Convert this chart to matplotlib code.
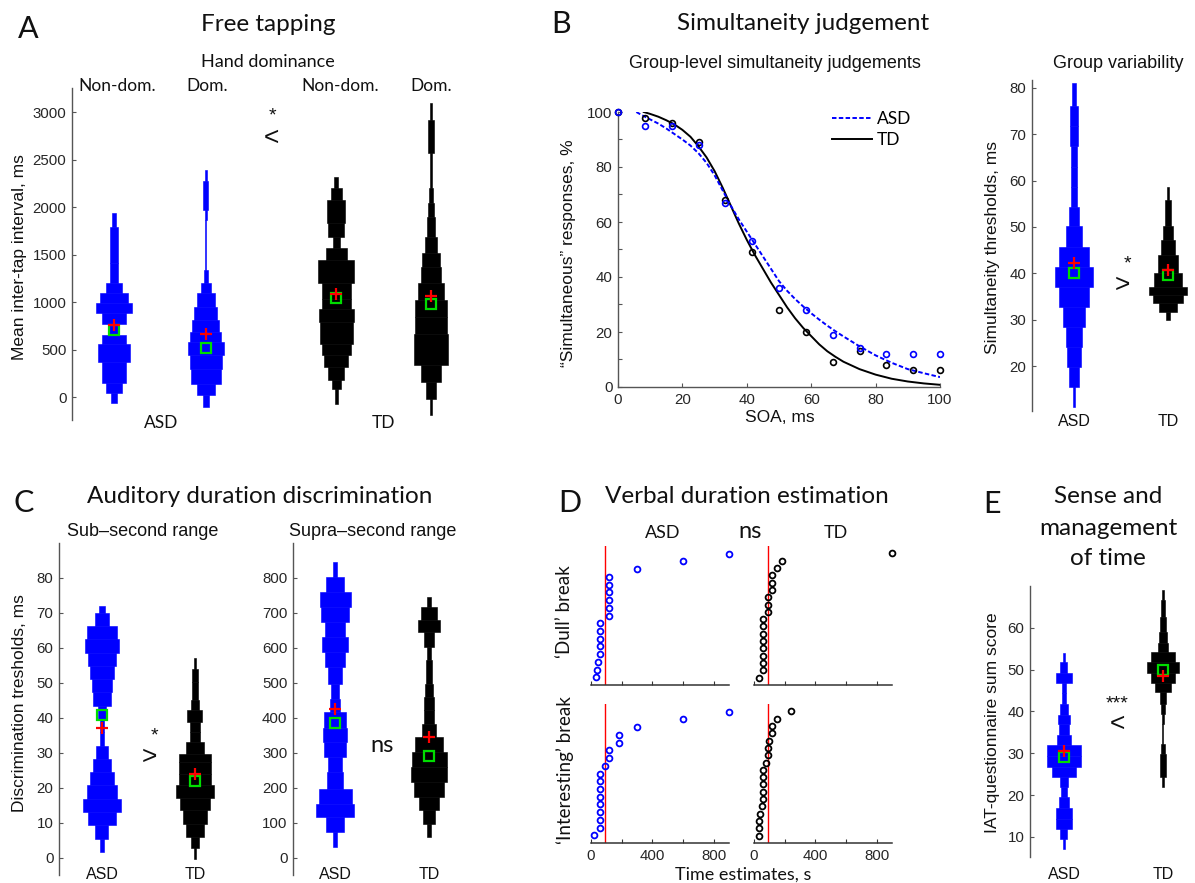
import numpy as np
import matplotlib
matplotlib.use("Agg")
import matplotlib.pyplot as plt
from matplotlib.lines import Line2D

# ---------------------------------------------------------------------------
# Data
# Violin shapes are stepped histograms: bin edges plus relative bin density.
# ---------------------------------------------------------------------------

# A: free tapping, mean inter-tap interval (ms)
tap_labels = ["Non-dom.", "Dom.", "Non-dom.", "Dom."]
tap_asd_nondom_edges = [-63, 42, 148, 369, 563, 658, 766, 880, 985, 1090, 1196, 1407, 1794, 1935]
tap_asd_nondom_dens = [8, 26, 38, 51, 38, 17, 37, 55, 43, 25, 12, 11, 5]
tap_asd_dom_edges = [-105, 18, 141, 299, 440, 580, 686, 809, 950, 1090, 1196, 1337, 1864, 1970, 2269, 2392]
tap_asd_dom_dens = [9, 28, 47, 50, 56, 48, 42, 36, 29, 16, 6, 1.5, 2, 8, 2]
tap_td_nondom_edges = [-70, 88, 176, 317, 440, 563, 790, 930, 1037, 1196, 1442, 1565, 1688, 1829, 2075, 2198, 2321]
tap_td_nondom_dens = [5, 14, 25, 37, 44, 50, 55, 45, 44, 56, 32, 11, 25, 28, 18, 6]
tap_td_dom_edges = [-193, -18, 158, 334, 668, 844, 1020, 1196, 1372, 1512, 1688, 1899, 2040, 2198, 2568, 2920, 3095]
tap_td_dom_dens = [4, 15, 32, 54, 50, 49, 40, 32, 28, 19, 12, 8, 6, 2, 10, 3]
tap_means = [756, 661, 1083, 1062]
tap_medians = [703, 520, 1038, 974]

# B: simultaneity judgements
soa = [0, 8.33, 16.67, 25, 33.33, 41.67, 50, 58.33, 66.67, 75, 83.33, 91.67, 100]
sj_asd = [100, 95, 95, 88, 67, 53, 36, 28, 19, 14, 12, 12, 12]
sj_td = [100, 98, 96, 89, 68, 49, 28, 20, 9, 13, 8, 6, 6]
fit_soa_asd = [5.7, 7.5, 10, 12.5, 15, 17.5, 20, 22.5, 25, 27.5, 30, 32.5, 35, 37.5, 40, 42.5, 45,
               47.5, 50, 52.5, 55, 57.5, 60, 62.5, 65, 67.5, 70, 75, 80, 85, 90, 95, 100]
fit_asd = [100, 98.8, 97.3, 95.8, 94, 92, 90, 87.8, 85, 81.5, 77, 71.5, 66, 61, 56.5, 52, 47.5,
           43, 38.5, 35, 32, 29.3, 26.8, 24.5, 22.3, 20.3, 18.4, 14.8, 11.5, 8.8, 6.5, 5, 3.6]
fit_soa_td = [8, 10, 12.5, 15, 17.5, 20, 22.5, 25, 27.5, 30, 32.5, 35, 37.5, 40, 42.5, 45, 47.5,
              50, 52.5, 55, 57.5, 60, 62.5, 65, 67.5, 70, 75, 80, 85, 90, 95, 100]
fit_td = [100, 99.3, 98.3, 97, 95.5, 93.5, 91, 87.5, 83.5, 78.5, 72.5, 66, 59.5, 53.5, 48, 43, 38,
          33.5, 29, 25, 21.5, 18.5, 15.5, 13, 11, 9.2, 6.5, 4.5, 3, 2, 1.3, 0.8]

sjt_asd_edges = [11.1, 15.4, 19.8, 24.1, 28.4, 32.7, 37.1, 41.4, 45.7, 50.1, 54.4, 58.7, 63.0, 67.4, 71.7, 76.0, 81.0]
sjt_asd_dens = [4, 14, 20, 25, 33, 45, 57, 45, 25, 16, 9, 9, 10, 13, 11, 5]
sjt_td_edges = [30.0, 31.7, 33.5, 35.3, 37.1, 40.0, 43.9, 47.2, 50.1, 55.8, 58.7]
sjt_td_dens = [6, 28, 45, 57, 42, 30, 22, 14, 8, 4]
sjt_means = [42.3, 40.8]
sjt_medians = [40.0, 39.6]

# C: auditory duration discrimination thresholds (ms)
sub_asd_edges = [1.7, 5.5, 9.3, 13.1, 16.9, 20.7, 24.5, 28.3, 32.1, 35.9, 39.7, 43.5, 47.3, 51.1, 54.9, 58.7, 62.5, 66.3, 70.1, 72.0]
sub_asd_dens = [6, 20, 42, 57, 47, 36, 27, 18, 7, 5, 12, 28, 32, 36, 42, 53, 46, 22, 8]
sub_td_edges = [-0.2, 2.7, 6.0, 9.8, 13.6, 17.0, 20.8, 24.1, 27.4, 29.8, 33.1, 36.0, 38.9, 42.3, 45.0, 50.3, 54.0, 57.0]
sub_td_dens = [4, 13, 27, 38, 45, 57, 50, 48, 49, 27, 16, 15, 23, 12, 8, 10, 4]
sub_means = [37.0, 23.9]
sub_medians = [40.8, 21.9]

supra_asd_edges = [31, 74, 117, 155, 198, 246, 289, 331, 370, 417, 455, 498, 546, 589, 631, 674, 717, 760, 803, 846]
supra_asd_dens = [6, 28, 57, 50, 25, 20, 32, 35, 33, 15, 12, 22, 30, 40, 30, 42, 47, 28, 5]
supra_td_edges = [60, 98, 136, 174, 217, 260, 303, 346, 384, 422, 460, 498, 565, 603, 646, 679, 717, 746]
supra_td_dens = [5, 18, 30, 45, 55, 53, 42, 20, 16, 15, 12, 10, 5, 15, 33, 25, 5]
supra_means = [427, 346]
supra_medians = [386, 290]

# D: verbal duration estimates (s), sorted per participant
break_duration = 90
dull_asd = [30, 40, 45, 60, 60, 60, 60, 60, 120, 120, 120, 120, 120, 120, 300, 600, 900]
dull_td = [35, 60, 60, 60, 60, 60, 60, 60, 60, 90, 90, 90, 120, 120, 120, 150, 180, 900]
int_asd = [20, 60, 60, 60, 60, 60, 60, 60, 60, 90, 120, 120, 180, 180, 300, 600, 900]
int_td = [30, 30, 30, 40, 50, 60, 60, 60, 60, 60, 75, 90, 90, 100, 120, 120, 150, 240]

# E: IAT questionnaire sum score
iat_asd_edges = [7.2, 9.6, 12.0, 14.4, 16.8, 19.6, 22.0, 24.4, 26.7, 29.3, 31.9, 34.3, 37.1, 39.1, 41.9, 44.3, 46.7, 49.1, 51.9, 53.9]
iat_asd_dens = [4, 10, 22, 22, 15, 8, 12, 35, 50, 48, 20, 15, 18, 12, 6, 6, 22, 10, 4]
iat_td_edges = [22.0, 24.4, 29.9, 32.3, 37.1, 39.5, 41.9, 44.7, 46.7, 49.1, 51.9, 54.3, 56.3, 59.0, 62.6, 66.6, 69.0]
iat_td_dens = [3, 9, 5, 1.5, 3, 5, 9, 22, 35, 47, 35, 15, 11, 9, 6, 2]
iat_means = [30.5, 48.5]
iat_medians = [29.1, 49.9]

# ---------------------------------------------------------------------------
# Styling
# ---------------------------------------------------------------------------
W, H = 1195, 883
HUMANIST = ['Lato', 'DejaVu Sans']
GROTESK = ['Liberation Sans', 'DejaVu Sans']
plt.rcParams['font.family'] = GROTESK
ASD_C = '#0000ff'
TD_C = '#000000'
MEAN_C = '#ff0000'
MED_C = '#00dd00'
SPINE = '#555555'
TICK = '#262626'
TEXT = '#111111'
TICK_SIZE = 10.8
TITLE_SIZE = 17.5
LETTER_SIZE = 22
WIDTH_PER_DENS = 0.4 / 57

fig = plt.figure(figsize=(W / 100, H / 100), dpi=100)


def px_axes(x0, y0, x1, y1):
    return fig.add_axes([x0 / W, 1 - y1 / H, (x1 - x0) / W, (y1 - y0) / H])


def label(x, y, s, size, family=HUMANIST, ha='center', va='baseline', **kw):
    fig.text(x / W, 1 - y / H, s, fontsize=size, family=family, ha=ha, va=va,
             color=kw.pop('color', TEXT), **kw)


def violin_axes(box, xlim, ylim, yticks):
    ax = px_axes(*box)
    ax.set_xlim(xlim)
    ax.set_ylim(ylim)
    for side in ('top', 'right', 'bottom'):
        ax.spines[side].set_visible(False)
    ax.spines['left'].set_color(SPINE)
    ax.spines['left'].set_linewidth(1.0)
    ax.set_xticks([])
    ax.set_yticks(yticks)
    ax.tick_params(axis='y', direction='in', length=3, width=0.8, color=SPINE,
                   labelsize=TICK_SIZE, labelcolor=TICK, pad=4)
    ax.patch.set_visible(False)
    return ax


def violin(ax, pos, edges, dens, color, mean, median):
    e = np.asarray(edges, float)
    w = np.asarray(dens, float) * WIDTH_PER_DENS
    ax.barh((e[:-1] + e[1:]) / 2, w, height=np.diff(e), left=pos - w / 2,
            color=color, edgecolor=color, linewidth=0.4, zorder=2)
    ax.plot([pos], [median], marker='s', ms=7, mfc='none', mec=MED_C, mew=1.6,
            zorder=5, clip_on=False)
    ax.plot([pos], [mean], marker='+', ms=9, mec=MEAN_C, mew=1.6, zorder=6,
            clip_on=False)


# ---------------------------------------------------------------------------
# A: Free tapping
# ---------------------------------------------------------------------------
axA = violin_axes((72, 88, 470, 420), (0.543, 4.874), (-242, 3253), range(0, 3001, 500))
tap_pos = [1, 2, 3.42, 4.45]
violin(axA, tap_pos[0], tap_asd_nondom_edges, tap_asd_nondom_dens, ASD_C, tap_means[0], tap_medians[0])
violin(axA, tap_pos[1], tap_asd_dom_edges, tap_asd_dom_dens, ASD_C, tap_means[1], tap_medians[1])
violin(axA, tap_pos[2], tap_td_nondom_edges, tap_td_nondom_dens, TD_C, tap_means[2], tap_medians[2])
violin(axA, tap_pos[3], tap_td_dom_edges, tap_td_dom_dens, TD_C, tap_means[3], tap_medians[3])

label(28, 38, "A", LETTER_SIZE)
label(268, 31, "Free tapping", TITLE_SIZE)
label(268, 67, "Hand dominance", 13)
for xp, t in zip([117, 207, 340, 431], tap_labels):
    label(xp, 91, t, 12.5)
label(161, 428, "ASD", 12.5)
label(383, 428, "TD", 12.5)
label(20, 257, "Mean inter-tap interval, ms", 12.5, family=GROTESK, rotation=90, va='center')
label(272, 116, "*", 14, family=GROTESK, va='center')
label(271, 138, "<", 19, family=GROTESK, va='center')

# ---------------------------------------------------------------------------
# B: Simultaneity judgement
# ---------------------------------------------------------------------------
axB = px_axes(618, 112, 940, 387)
axB.set_xlim(0, 100)
axB.set_ylim(0, 100)
for side in ('top', 'right'):
    axB.spines[side].set_visible(False)
for side in ('left', 'bottom'):
    axB.spines[side].set_color(SPINE)
    axB.spines[side].set_linewidth(1.0)
axB.set_xticks(range(0, 101, 20))
axB.set_yticks(range(0, 101, 20))
axB.set_yticks(range(10, 100, 20), minor=True)
axB.tick_params(which='both', direction='in', length=3, width=0.8, color=SPINE,
                labelsize=TICK_SIZE, labelcolor=TICK, pad=4)
axB.patch.set_visible(False)
axB.plot(fit_soa_td, fit_td, color=TD_C, lw=1.4, zorder=2)
axB.plot(fit_soa_asd, fit_asd, color=ASD_C, lw=1.4, ls=(0, (2.3, 1.2)), zorder=3)
axB.plot(soa, sj_td, 'o', ms=4.2, mfc='none', mec=TD_C, mew=1.2, zorder=4, clip_on=False)
axB.plot(soa, sj_asd, 'o', ms=4.2, mfc='none', mec=ASD_C, mew=1.2, zorder=5, clip_on=False)
handles = [Line2D([], [], color=ASD_C, lw=1.4, ls=(0, (2.3, 1.2))),
           Line2D([], [], color=TD_C, lw=1.4)]
axB.legend(handles, ["ASD", "TD"], loc='upper left',
           bbox_to_anchor=((832 - 618) / 322, 1.005), frameon=False,
           handlelength=2.3, handletextpad=0.3, labelspacing=0.33, borderpad=0,
           borderaxespad=0, prop={'family': HUMANIST, 'size': 12.5})

label(561, 33, "B", LETTER_SIZE)
label(803, 30, "Simultaneity judgement", TITLE_SIZE)
label(775, 68, "Group-level simultaneity judgements", 13, family=GROTESK)
label(780, 422, "SOA, ms", 12.5, family=GROTESK)
label(568, 253, "\u201cSimultaneous\u201d responses, %", 12.5, family=GROTESK, rotation=90, va='center')

# Group variability
axB2 = violin_axes((1032, 80, 1195, 411), (0.553, 2.287), (10.3, 81.7), range(20, 81, 10))
violin(axB2, 1, sjt_asd_edges, sjt_asd_dens, ASD_C, sjt_means[0], sjt_medians[0])
violin(axB2, 2, sjt_td_edges, sjt_td_dens, TD_C, sjt_means[1], sjt_medians[1])
label(1118, 68, "Group variability", 13, family=GROTESK)
label(993, 247, "Simultaneity thresholds, ms", 12.5, family=GROTESK, rotation=90, va='center')
label(1074, 426, "ASD", 11.5, family=GROTESK)
label(1168, 426, "TD", 11.5, family=GROTESK)
label(1127, 264, "*", 14, family=GROTESK, va='center')
label(1122, 285, ">", 19, family=GROTESK, va='center')

# ---------------------------------------------------------------------------
# C: Auditory duration discrimination
# ---------------------------------------------------------------------------
axC1 = violin_axes((59, 543, 240, 875), (0.538, 2.484), (-4.9, 90), range(0, 81, 10))
violin(axC1, 1, sub_asd_edges, sub_asd_dens, ASD_C, sub_means[0], sub_medians[0])
violin(axC1, 2, sub_td_edges, sub_td_dens, TD_C, sub_means[1], sub_medians[1])
axC2 = violin_axes((293, 543, 475, 875), (0.553, 2.489), (-48.6, 900), range(0, 801, 100))
violin(axC2, 1, supra_asd_edges, supra_asd_dens, ASD_C, supra_means[0], supra_medians[0])
violin(axC2, 2, supra_td_edges, supra_td_dens, TD_C, supra_means[1], supra_medians[1])

label(24, 512, "C", LETTER_SIZE)
label(260, 503, "Auditory duration discrimination", TITLE_SIZE)
label(143, 536, "Sub\u2013second range", 13, family=GROTESK)
label(373, 536, "Supra\u2013second range", 13, family=GROTESK)
label(20, 703, "Discrimination tresholds, ms", 12.5, family=GROTESK, rotation=90, va='center')
for xp, t in [(102, "ASD"), (195, "TD"), (335, "ASD"), (429, "TD")]:
    label(xp, 879, t, 11.5, family=GROTESK)
label(154, 736, "*", 14, family=GROTESK, va='center')
label(149, 757, ">", 19, family=GROTESK, va='center')
label(382, 752, "ns", 17, va='baseline')

# ---------------------------------------------------------------------------
# D: Verbal duration estimation
# ---------------------------------------------------------------------------
d_boxes = [(591, 546, 729, 685), (754, 546, 892, 685),
           (591, 704, 729, 843), (754, 704, 892, 843)]
d_sets = [(dull_asd, ASD_C), (dull_td, TD_C), (int_asd, ASD_C), (int_td, TD_C)]
for i, (box, (vals, col)) in enumerate(zip(d_boxes, d_sets)):
    ax = px_axes(*box)
    n = len(vals)
    ax.set_xlim(0, 900)
    ax.set_ylim(0, n + 1)
    for side in ('top', 'right', 'left'):
        ax.spines[side].set_visible(False)
    ax.spines['bottom'].set_color('#333333')
    ax.spines['bottom'].set_linewidth(1.1)
    ax.set_yticks([])
    ax.set_xticks([0, 200, 400, 600, 800])
    ax.tick_params(axis='x', direction='in', length=3, width=0.8, color='#333333',
                   labelsize=TICK_SIZE, labelcolor=TICK, pad=4)
    if i >= 2:
        ax.set_xticklabels(['0', '', '400', '', '800'])
    else:
        ax.set_xticklabels([])
    ax.axvline(break_duration, color='red', lw=1.0, zorder=1)
    ax.plot(sorted(vals), np.arange(1, n + 1), 'o', ms=4.2, mfc='none', mec=col,
            mew=1.3, zorder=3, clip_on=False)
    ax.patch.set_visible(False)

label(570, 512, "D", LETTER_SIZE)
label(747, 503, "Verbal duration estimation", TITLE_SIZE)
label(663, 538, "ASD", 13)
label(750, 538, "ns", 17)
label(836, 538, "TD", 13)
label(565, 612, "\u2018Dull\u2019 break", 13.5, rotation=90, va='center')
label(565, 770, "\u2018Interesting\u2019 break", 13.5, rotation=90, va='center')
label(743, 880, "Time estimates, s", 13)

# ---------------------------------------------------------------------------
# E: Sense and management of time
# ---------------------------------------------------------------------------
axE = violin_axes((1030, 586, 1195, 857), (0.657, 2.324), (5.2, 70), range(10, 61, 10))
violin(axE, 1, iat_asd_edges, iat_asd_dens, ASD_C, iat_means[0], iat_medians[0])
violin(axE, 2, iat_td_edges, iat_td_dens, TD_C, iat_means[1], iat_medians[1])

label(992, 513, "E", LETTER_SIZE)
label(1108, 503, "Sense and", TITLE_SIZE)
label(1108, 535, "management", TITLE_SIZE)
label(1108, 565, "of time", TITLE_SIZE)
label(992, 723, "IAT-questionnaire sum score", 12.5, family=GROTESK, rotation=90, va='center')
label(1064, 879, "ASD", 11.5, family=GROTESK)
label(1163, 879, "TD", 11.5, family=GROTESK)
label(1117, 704, "***", 14, family=GROTESK, va='center')
label(1117, 724, "<", 19, family=GROTESK, va='center')

fig.savefig("out.png", dpi=100)
